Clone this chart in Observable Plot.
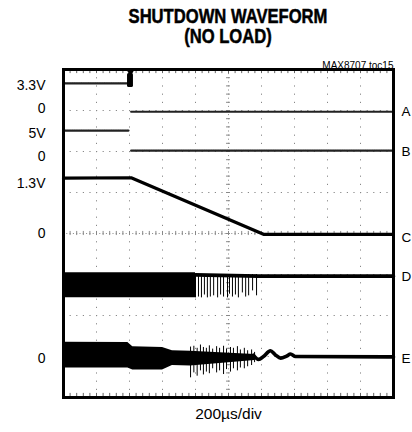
<!DOCTYPE html>
<html>
<head>
<meta charset="utf-8">
<script src="https://cdn.jsdelivr.net/npm/d3@7"></script>
<script src="https://cdn.jsdelivr.net/npm/@observablehq/plot@0.6"></script>
<style>
  html, body { margin: 0; padding: 0; background: #fff; }
  #wrap { position: relative; width: 412px; height: 432px; overflow: hidden; }
  .title {
    position: absolute; left: 63px; width: 330px; height: 19px;
    text-align: center; font-family: "Liberation Sans", Arial, sans-serif;
    font-weight: bold; font-size: 20px; line-height: 19px; color: #000;
    transform: scaleX(0.83); transform-origin: 50% 50%;
    -webkit-text-stroke: 0.5px #000;
  }
</style>
</head>
<body>
<div id="wrap">
  <div id="chart"></div>
  <div class="title" style="top:7px">SHUTDOWN WAVEFORM</div>
  <div class="title" style="top:27px">(NO LOAD)</div>
</div>
<script>
// ---- Data (time in divisions 0..10, amplitude in divisions -4..4) ----
const triggerDiv = 2.03;

// Trace A (3.3V -> 0)
const tA = [0, 1.97, NaN, 2.05, 10];
const vA = [3.66, 3.66, NaN, 2.97, 2.97];
// Trace B (5V -> 0)
const tB = [0, 1.97, NaN, 2.05, 10];
const vB = [2.51, 2.51, NaN, 2.02, 2.02];
// Trace C (1.3V ramp to 0)
const tC = [0, 2.05, 6.06, 10];
const vC = [1.35, 1.36, -0.02, -0.02];
// Trace D switching band, spikes, and settled line
const tDband = [0, 4.0];
const dTop = [-0.96, -0.96];
const dBottom = [-1.57, -1.57];
const dSpikeT = [4.0, 4.09, 4.18, 4.27, 4.36, 4.45, 4.55, 4.67, 4.76, 4.85, 4.97, 5.03, 5.12, 5.21, 5.30, 5.42, 5.52, 5.61, 5.73, 5.85];
const dSpikeLow = [-1.57, -1.55, -1.57, -1.5, -1.57, -1.55, -1.52, -1.57, -1.5, -1.55, -1.57, -1.48, -1.55, -1.5, -1.57, -1.45, -1.55, -1.52, -1.4, -1.52];
const tD = [4.0, 5.9, 10];
const vD = [-1.01, -1.04, -1.04];
// Trace E band, spikes, ringing
const tEband = [0, 1.95, 2.1, 3.0, 3.3, 3.85, 5.8];
const eTop = [-2.65, -2.66, -2.76, -2.78, -2.86, -2.87, -2.95];
const eBottom = [-3.28, -3.28, -3.33, -3.33, -3.22, -3.23, -3.1];
const eSpikeT = [3.85, 3.95, 4.05, 4.15, 4.24, 4.33, 4.42, 4.52, 4.64, 4.73, 4.85, 4.94, 5.06, 5.15, 5.27, 5.36, 5.48, 5.58, 5.7, 5.79];
const eSpikeHigh = [-2.77, -2.75, -2.8, -2.72, -2.78, -2.8, -2.74, -2.82, -2.76, -2.8, -2.75, -2.82, -2.78, -2.8, -2.76, -2.84, -2.8, -2.86, -2.84, -2.9];
const eSpikeLow = [-3.52, -3.4, -3.48, -3.35, -3.45, -3.38, -3.42, -3.3, -3.4, -3.35, -3.44, -3.32, -3.38, -3.3, -3.35, -3.28, -3.3, -3.25, -3.22, -3.15];
const tE = [5.76, 5.91, 6.06, 6.27, 6.42, 6.58, 6.76, 6.88, 7.03, 10];
const vE = [-2.97, -3.07, -3.0, -2.86, -2.96, -3.04, -2.99, -2.94, -3.0, -3.01];

// Labels
const leftLabels = ["3.3V", "0", "5V", "0", "1.3V", "0", "0"];
const leftLabelY = [3.6, 3.06, 2.43, 1.87, 1.21, 0.01, -3.04];
const rightLabels = ["A", "B", "C", "D", "E"];
const rightLabelY = [2.96, 1.99, -0.09, -1.06, -3.06];
const xLabel = "200µs/div";
const tocLabel = "MAX8707 toc15";

// Graticule
const majorX = d3.range(1, 10);
const majorY = d3.range(-3, 4);
const minorX = d3.range(0, 10.001, 0.2);
const minorY = d3.range(-4, 4.001, 0.2);

const zip = (ts, vs) => ts.map((t, i) => ({t, v: vs[i]}));

const plot = Plot.plot({
  width: 412,
  height: 432,
  marginLeft: 63,
  marginRight: 19,
  marginTop: 69,
  marginBottom: 35,
  x: {domain: [0, 10], axis: null},
  y: {domain: [-4, 4], axis: null},
  style: {fontFamily: "'Liberation Sans', Arial, sans-serif", background: "#fff", color: "#000"},
  marks: [
    // dotted graticule
    Plot.ruleX(majorX.filter(d => d !== 5), {stroke: "#888", strokeWidth: 1, strokeDasharray: "1.2 7"}),
    Plot.ruleY(majorY.filter(d => d !== 0), {stroke: "#888", strokeWidth: 1, strokeDasharray: "1.2 5.4"}),
    Plot.ruleX([5], {stroke: "#888", strokeWidth: 1, strokeDasharray: "1 3.1"}),
    Plot.ruleY([0], {stroke: "#888", strokeWidth: 1, strokeDasharray: "1 2.3"}),
    // center crosshair minor ticks
    Plot.ruleY(minorY, {x1: 4.94, x2: 5.06, stroke: "#888", strokeWidth: 1}),
    Plot.ruleX(minorX, {y1: -0.05, y2: 0.05, stroke: "#888", strokeWidth: 1}),
    // border ticks top & bottom
    Plot.ruleX(minorX, {y1: 4, y2: 3.9, stroke: "#666", strokeWidth: 1}),
    Plot.ruleX(minorX, {y1: -4, y2: -3.9, stroke: "#666", strokeWidth: 1}),

    // Trace A
    Plot.line(zip(tA, vA), {x: "t", y: "v", stroke: "#222", strokeWidth: 2.2, strokeDasharray: "1.6 0.7"}),
    // Trace B
    Plot.line(zip(tB, vB), {x: "t", y: "v", stroke: "#222", strokeWidth: 2.2, strokeDasharray: "1.6 0.7"}),
    // Trace C
    Plot.line(zip(tC, vC), {x: "t", y: "v", stroke: "#000", strokeWidth: 3.2}),
    // Trace D
    Plot.areaY(tDband.map((t, i) => ({t, y1: dTop[i], y2: dBottom[i]})), {x: "t", y1: "y1", y2: "y2", fill: "#000"}),
    Plot.ruleX(dSpikeT.map((t, i) => ({t, lo: dSpikeLow[i]})), {x: "t", y1: -1.0, y2: "lo", stroke: "#000", strokeWidth: 1}),
    Plot.line(zip(tD, vD), {x: "t", y: "v", stroke: "#000", strokeWidth: 3.6}),
    // Trace E
    Plot.areaY(tEband.map((t, i) => ({t, y1: eTop[i], y2: eBottom[i]})), {x: "t", y1: "y1", y2: "y2", fill: "#000"}),
    Plot.ruleX(eSpikeT.map((t, i) => ({t, hi: eSpikeHigh[i], lo: eSpikeLow[i]})), {x: "t", y1: "hi", y2: "lo", stroke: "#000", strokeWidth: 1}),
    Plot.line(zip(tE, vE), {x: "t", y: "v", stroke: "#000", strokeWidth: 3.6, curve: "monotone-x"}),

    // trigger markers
    Plot.dot([triggerDiv], {x: d => d, y: 4, symbol: "triangle", rotate: 180, r: 3.2, dy: 2, fill: "#000", stroke: null}),
    Plot.rect([triggerDiv], {x1: d => d - 0.09, x2: d => d + 0.09, y1: 3.56, y2: 3.9, fill: "#000", rx: 1.5}),

    // frame
    Plot.frame({stroke: "#000", strokeWidth: 3}),

    // labels
    Plot.text(leftLabels, {y: (d, i) => leftLabelY[i], text: d => d, frameAnchor: "left", dx: -18, textAnchor: "end", fontSize: 14, fill: "#000"}),
    Plot.text(rightLabels, {y: (d, i) => rightLabelY[i], text: d => d, frameAnchor: "right", dx: 8, textAnchor: "start", fontSize: 13.5, fill: "#000"}),
    Plot.text([xLabel], {frameAnchor: "bottom", dy: 21, fontSize: 15.5, fill: "#000"}),
    Plot.text([tocLabel], {frameAnchor: "top-right", dy: -8, textAnchor: "end", fontSize: 10, fill: "#000"})
  ]
});
document.getElementById("chart").appendChild(plot);
</script>
</body>
</html>
